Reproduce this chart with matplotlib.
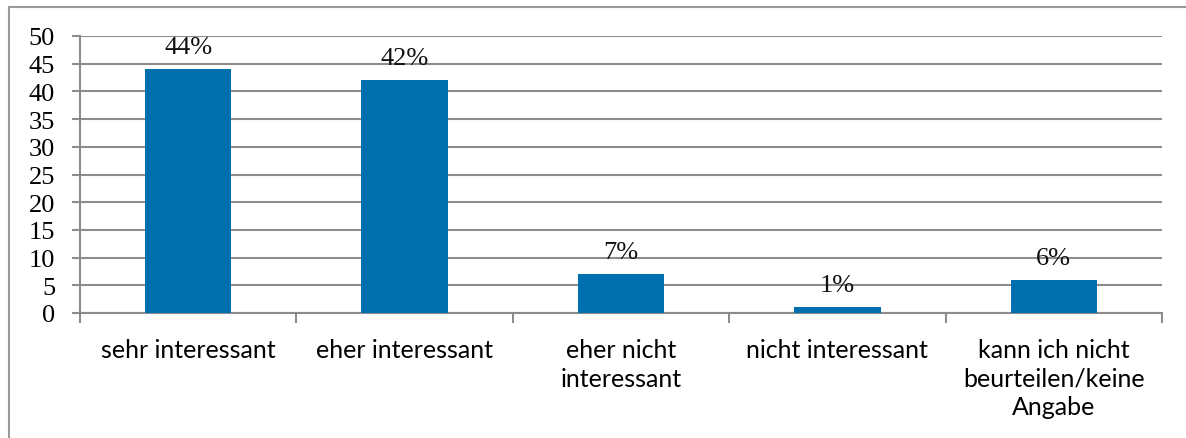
import matplotlib

matplotlib.use("Agg")
import matplotlib.pyplot as plt
from matplotlib.lines import Line2D

categories = [
    "sehr interessant",
    "eher interessant",
    "eher nicht\ninteressant",
    "nicht interessant",
    "kann ich nicht\nbeurteilen/keine\nAngabe",
]
values = [44, 42, 7, 1, 6]
value_labels = ["44%", "42%", "7%", "1%", "6%"]
y_ticks = list(range(0, 51, 5))

BAR_COLOR = "#006FAD"
GRID_COLOR = "#8C8C8C"
AXIS_COLOR = "#8C8C8C"
SERIF = ["Liberation Serif", "DejaVu Serif"]


def main() -> None:
    fig = plt.figure(figsize=(11.86, 4.39), dpi=100)
    ax = fig.add_axes([80 / 1186, 1 - 314 / 439, (1162 - 80) / 1186, (314 - 37) / 439])

    x = list(range(len(categories)))
    ax.bar(x, values, width=0.4, color=BAR_COLOR, zorder=3)

    for xi, v, lab in zip(x, values, value_labels):
        ax.annotate(
            lab,
            (xi, v),
            xytext=(0, 8),
            textcoords="offset points",
            ha="center",
            va="bottom",
            fontsize=19,
            family=SERIF,
            color="#111111",
            zorder=4,
        )

    ax.set_xlim(-0.5, len(categories) - 0.5)
    ax.set_ylim(0, 50)
    ax.set_yticks(y_ticks)
    ax.set_yticklabels([str(t) for t in y_ticks], family=SERIF, fontsize=19)
    ax.tick_params(axis="y", length=6, width=1.5, color=AXIS_COLOR, pad=12)

    ax.set_xticks(x)
    ax.set_xticklabels(categories, family="Lato", fontsize=18, linespacing=1.3)
    ax.tick_params(axis="x", which="major", length=0, pad=18)
    ax.set_xticks([i - 0.5 for i in range(len(categories) + 1)], minor=True)
    ax.tick_params(axis="x", which="minor", length=7, width=1.5, color=AXIS_COLOR)

    ax.grid(True, axis="y", color=GRID_COLOR, linewidth=1.5, zorder=0)
    ax.set_axisbelow(True)
    for side in ("top", "right"):
        ax.spines[side].set_visible(False)
    for side in ("left", "bottom"):
        ax.spines[side].set_color(AXIS_COLOR)
        ax.spines[side].set_linewidth(1.5)

    # outer chart frame (only top and left edges visible in the crop)
    fig.add_artist(Line2D([8.5 / 1186, 1], [1 - 8 / 439, 1 - 8 / 439], color="#999999", linewidth=1.5))
    fig.add_artist(Line2D([8.5 / 1186, 8.5 / 1186], [0, 1 - 8 / 439], color="#999999", linewidth=1.5))

    fig.savefig("out.png", dpi=100)
    plt.close(fig)


if __name__ == "__main__":
    main()
